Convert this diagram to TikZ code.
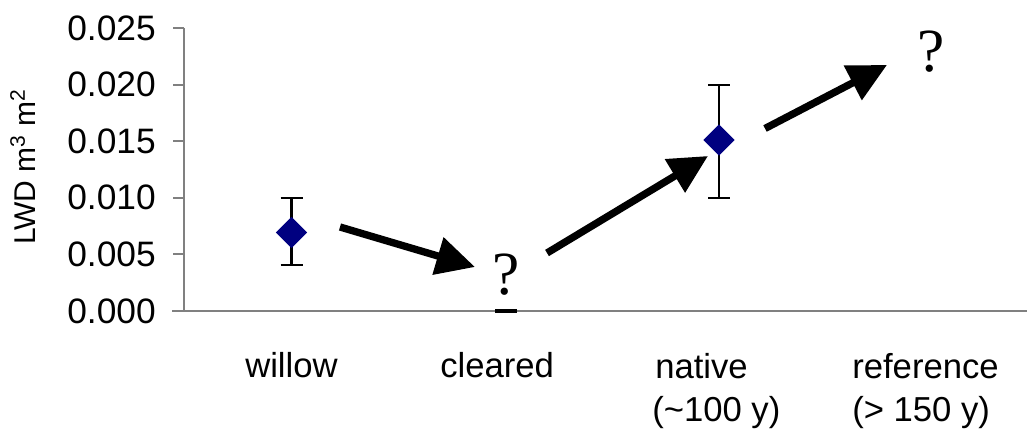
\documentclass[tikz,border=0pt]{standalone}
\usepackage{fontspec}
\setmainfont{Liberation Sans}
\newfontfamily\qfont{Liberation Serif}
\usetikzlibrary{arrows.meta,shapes.geometric}
\definecolor{navy}{HTML}{000080}
\definecolor{axisgray}{HTML}{808080}
\begin{document}
\begin{tikzpicture}[x=0.75pt,y=-0.75pt,
  axisline/.style={draw=axisgray,line width=1.5pt},
  ticklab/.style={anchor=east,font=\fontsize{26.5}{30}\selectfont,inner sep=0pt},
  catlab/.style={anchor=base west,font=\fontsize{26}{30}\selectfont,inner sep=0pt},
  datapt/.style={diamond,fill=navy,inner sep=0pt,minimum width=23.5pt,minimum height=23.5pt},
  errbar/.style={line width=2pt},
  bigarrow/.style={line width=5.5pt,-{Triangle[length=29pt,width=28pt]}},
  qmark/.style={anchor=base,font=\qfont\fontsize{46}{50}\selectfont,inner sep=0pt}]
\useasboundingbox (0,0) rectangle (1027,434);
% axes
\draw[axisline] (183.5,28) -- (183.5,311);
\draw[axisline] (172,311) -- (1027,311);
\foreach \yy/\lab in {28/0.025,84.6/0.020,141.2/0.015,197.8/0.010,254.4/0.005,311/0.000}{
  \draw[axisline] (173,\yy) -- (183.5,\yy);
  \node[ticklab] at (156,\yy) {\lab};
}
% y label
\node[rotate=90,anchor=base,inner sep=0pt,font=\fontsize{22.5}{26}\selectfont] (ylab) at (35,167) {LWD m\textsuperscript{3} m\textsuperscript{2}};
% error bars
\draw[errbar] (291.5,198) -- (291.5,265);
\draw[errbar] (280.5,198) -- (302.5,198);
\draw[errbar] (280.5,265) -- (302.5,265);
\draw[errbar] (719,85) -- (719,198);
\draw[errbar] (708,85) -- (730,85);
\draw[errbar] (708,198) -- (730,198);
\draw[line width=2.6pt] (495,311) -- (517,311);
% data points
\node[datapt] (willow) at (291.5,232.5) {};
\node[datapt] (native) at (719,140) {};
% question marks
\node[qmark] (qcleared) at (506,295) {?};
\node[qmark] (qref) at (931,72) {?};
% arrows
\coordinate (a1s) at (340,227);
\coordinate (a1e) at (475,267);
\coordinate (a2s) at (547,253);
\coordinate (a2e) at (708,156);
\coordinate (a3s) at (765,128.5);
\coordinate (a3e) at (887,65);
\draw[bigarrow] (a1s) -- (a1e);
\draw[bigarrow] (a2s) -- (a2e);
\draw[bigarrow] (a3s) -- (a3e);
% category labels
\node[catlab] (lwillow) at (245,377) {willow};
\node[catlab] (lcleared) at (440,377) {cleared};
\node[catlab] (lnative) at (655,378) {native};
\node[catlab] (lnative2) at (652,421) {(\textasciitilde100 y)};
\node[catlab] (lref) at (852,378) {reference};
\node[catlab] (lref2) at (852,421) {(> 150 y)};
\end{tikzpicture}
\end{document}
